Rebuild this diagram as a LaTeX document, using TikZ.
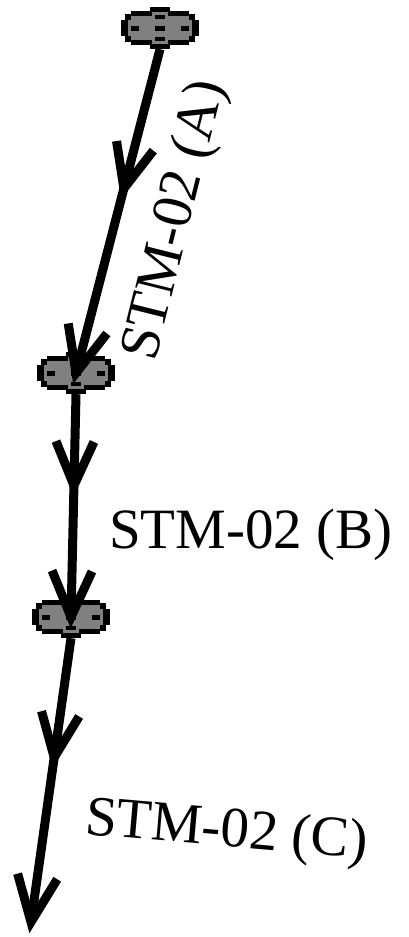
\documentclass[tikz,border=0pt]{standalone}
\usepackage{fontspec}
\setmainfont{Liberation Serif}
\usetikzlibrary{decorations.markings}

\definecolor{blobgray}{RGB}{128,128,128}

% open V arrow head, drawn in the marking's frame
\newcommand{\barbhead}[2]{%
  \draw[line width=9pt, line join=miter, line cap=butt]
    (-#1pt,#2pt) -- (0pt,0pt) -- (-#1pt,-#2pt);}

\tikzset{
  x=1pt, y=-1pt,
  link/.style={
    line width=9pt, line cap=butt,
    postaction={decorate},
    decoration={markings,
      mark=at position #1 with {\barbhead{44}{19}},
      mark=at position 1 with {\barbhead{46}{20}}}},
  blobnode/.style={minimum width=78pt, minimum height=42pt,
    inner sep=0pt, draw=none},
  label/.style={font=\fontsize{57}{60}\selectfont, inner sep=0pt,
    anchor=base west},
  % pixel style connector plug
  blob/.pic={
    \fill[black] (-39,-8) rectangle (39,8);
    \fill[black] (-35,-14) rectangle (35,14);
    \fill[black] (-29,-17) rectangle (29,17);
    \fill[black] (-10,-21) rectangle (10,21);
    \fill[blobgray] (-32,-8) rectangle (32,8);
    \fill[blobgray] (-29,-12) rectangle (29,12);
    \fill[blobgray] (-8,-16) rectangle (8,16);
    \fill[black] (-29,-2) rectangle (-21,3);
    \fill[black] (21,-2) rectangle (29,3);
    \fill[black] (-5,-2) rectangle (5,3);
    \fill[black] (-5,-13) rectangle (5,-9);
    \fill[black] (-5,9) rectangle (5,13);
  }
}

\begin{document}
\begin{tikzpicture}
  \fill[white] (0,0) rectangle (408,937);
  \useasboundingbox (0,0) rectangle (408,937);

  \node[blobnode] (n1) at (160,28) {};
  \node[blobnode] (n2) at (76,373) {};
  \node[blobnode] (n3) at (71,617) {};
  \coordinate (tail) at (31,922);

  \pic at (n1.center) {blob};
  \pic at (n2.center) {blob};
  \pic at (n3.center) {blob};

  \draw[link=0.43] (n1.south) -- (n2.center);
  \draw[link=0.41] (n2.south) -- (n3.center);
  \draw[link=0.42] (n3.south) -- (tail);

  \node[label, rotate=76] (la) at (155,363) {STM-02 (A)};
  \node[label] (lb) at (109,548) {STM-02 (B)};
  \node[label, rotate=-5] (lc) at (84,834) {STM-02 (C)};
\end{tikzpicture}
\end{document}
